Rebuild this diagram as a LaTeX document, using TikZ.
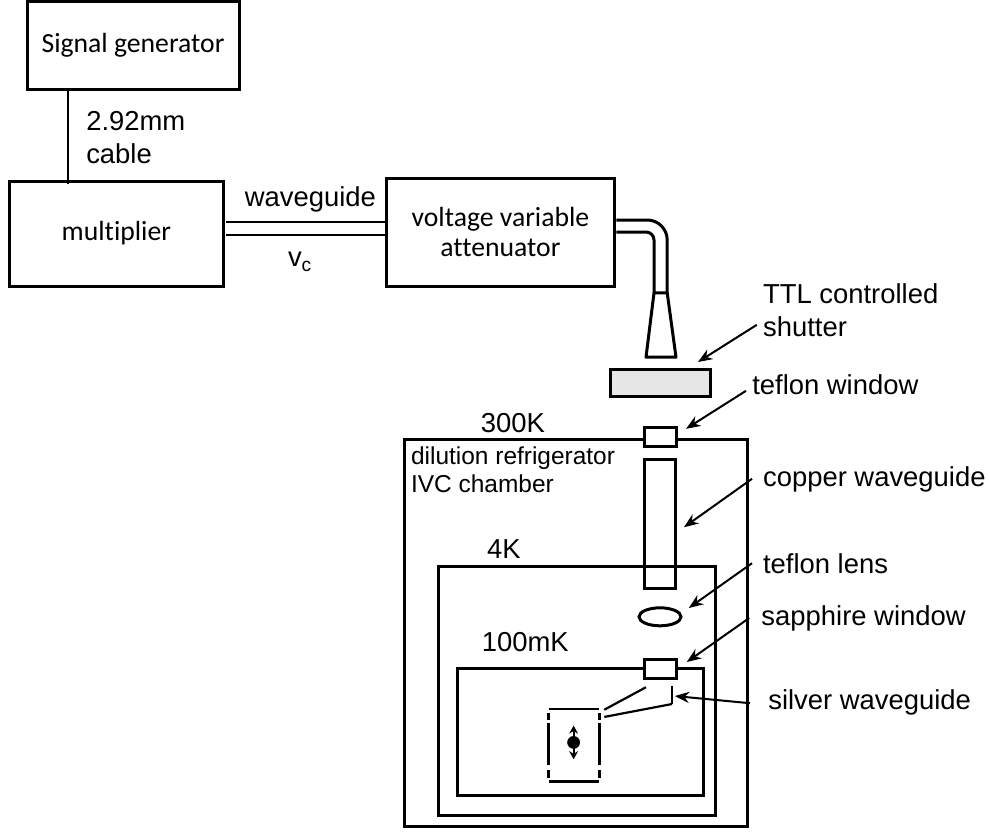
\documentclass[tikz,border=0pt]{standalone}
\usepackage{fontspec}
\setmainfont{Liberation Sans}
\newfontfamily\calibrifont[Ligatures=NoCommon]{Carlito}
\usetikzlibrary{positioning,arrows.meta,calc,shapes.geometric}
\definecolor{shutterfill}{RGB}{230,230,230}
\tikzset{
  box/.style={rectangle,draw=black,line width=0.075cm,align=center,inner sep=0pt,font=\calibrifont\fontsize{19.7}{22}\selectfont},
  partbox/.style={rectangle,draw=black,line width=0.075cm,inner sep=0pt,fill=white},
  chamber/.style={rectangle,draw=black,line width=0.075cm,inner sep=0pt},
  pipe/.style={draw=black,line width=0.075cm,line join=round},
  thinline/.style={draw=black,line width=0.045cm},
  lab/.style={inner sep=0pt,align=left,font=\fontsize{19.5}{23.5}\selectfont},
  smalllab/.style={inner sep=0pt,align=left,font=\fontsize{17.4}{20.5}\selectfont},
  pointer/.style={-{Stealth[length=3.6mm,width=2.8mm]},line width=0.05cm},
  sampleline/.style={draw=black,line width=0.055cm}
}
\begin{document}
\begin{tikzpicture}
  \useasboundingbox (0,0) rectangle (24.75,-20.8);

  % source chain
  \node[box,minimum width=5.3cm,minimum height=2.2cm] (siggen) at (3.325,-1.13) {Signal generator};
  \node[box,minimum width=5.33cm,minimum height=2.63cm] (mult) at (2.91,-5.84) {multiplier};
  \node[box,minimum width=5.72cm,minimum height=2.7cm] (atten) at (12.51,-5.8) {voltage variable\\attenuator};
  \coordinate (cabend) at (1.7,-4.6);
  \draw[thinline] (siggen.south -| cabend) -- (cabend);
  \node[lab,anchor=west] (cablelab) at (2.15,-3.45) {2.92mm\\cable};
  \coordinate (wgtop) at (5.65,-5.55);
  \coordinate (wgbot) at (5.65,-5.875);
  \draw[thinline] (wgtop) -- (wgtop -| atten.west);
  \draw[thinline] (wgbot) -- (wgbot -| atten.west);
  \node[lab] (wglab) at (7.76,-4.98) {waveguide};
  \node[lab] (vclab) at (7.5,-6.55) {v\textsubscript{c}};

  % bend and horn
  \coordinate (hornl) at (16.35,-7.32);
  \coordinate (hornr) at (16.68,-7.32);
  \draw[pipe,rounded corners=0.5cm] (atten.east |- 0,-5.5) -- (16.68,-5.5) -- (hornr);
  \draw[pipe,rounded corners=0.2cm] (atten.east |- 0,-5.8) -- (16.35,-5.8) -- (hornl);
  \draw[pipe] (hornl) -- (16.15,-8.93) -- (16.9,-8.93) -- (hornr) -- cycle;

  % chambers
  \node[chamber,minimum width=8.58cm,minimum height=9.68cm] (ivc) at (14.39,-15.83) {};
  \node[chamber,minimum width=6.92cm,minimum height=6.23cm] (fourk) at (14.43,-17.27) {};
  \node[chamber,minimum width=6.15cm,minimum height=3.17cm] (cold) at (14.52,-18.29) {};
  \node[lab] (lab300) at (12.82,-10.58) {300K};
  \node[lab] (lab4k) at (12.6,-13.73) {4K};
  \node[lab] (lab100) at (13.13,-16.05) {100mK};
  \node[smalllab,anchor=north west] (ivclab) at (10.27,-11.15) {dilution refrigerator\\IVC chamber};

  % optical path
  \node[partbox,fill=shutterfill,minimum width=2.5cm,minimum height=0.68cm] (shutter) at (16.5,-9.58) {};
  \node[partbox,minimum width=0.8cm,minimum height=0.47cm] (tefwin) at (16.5,-10.92) {};
  \node[partbox,fill=none,minimum width=0.78cm,minimum height=3.23cm] (copper) at (16.5,-13.09) {};
  \node[ellipse,draw=black,line width=0.075cm,minimum width=1.05cm,minimum height=0.45cm,inner sep=0pt] (lens) at (16.5,-15.42) {};
  \node[partbox,minimum width=0.8cm,minimum height=0.47cm] (sapwin) at (16.5,-16.72) {};

  % sample
  \node[minimum width=1.26cm,minimum height=1.8cm,inner sep=0pt] (sample) at (14.35,-18.63) {};
  \draw[sampleline] (sample.north west) -- (sample.north east);
  \draw[sampleline] (sample.south west) -- (sample.south east);
  \foreach \side in {west,east}{
    \draw[sampleline] ($(sample.north \side)+(0,-0.1)$) -- ++(0,-0.17);
    \draw[sampleline] ($(sample.north \side)+(0,-0.35)$) -- ++(0,-1.05);
    \draw[sampleline] ($(sample.south \side)+(0,0.28)$) -- ++(0,-0.18);
  }
  \coordinate (dot) at (14.34,-18.56);
  \fill[black] (dot) circle (0.16cm);
  \draw[{Stealth[length=2mm,width=2.2mm]}-{Stealth[length=2mm,width=2.2mm]},line width=0.05cm] ($(dot)+(0,0.42)$) -- ($(dot)+(0,-0.42)$);

  % silver waveguide
  \coordinate (sfork) at (16.8,-17.6);
  \draw[sampleline] ($(sample.north east)+(0.12,-0.02)$) -- (16.15,-17.18);
  \draw[sampleline] ($(sample.north east)+(0.12,-0.2)$) -- (sfork);
  \draw[sampleline] (sfork) -- ++(0,0.45);

  % labels on the right
  \node[lab,anchor=west] (shutterlab) at (19.07,-7.75) {TTL controlled\\shutter};
  \node[lab,anchor=west] (teflab) at (18.8,-9.62) {teflon window};
  \node[lab,anchor=west] (coplab) at (19.07,-11.98) {copper waveguide};
  \node[lab,anchor=west] (lenslab) at (19.07,-14.1) {teflon lens};
  \node[lab,anchor=west] (saplab) at (19.03,-15.47) {sapphire window};
  \node[lab,anchor=west] (silvlab) at (19.2,-17.55) {silver waveguide};

  \coordinate (shuttip) at (17.45,-9.05);
  \coordinate (teftip) at (17.15,-10.72);
  \coordinate (coptip) at (17.1,-13.18);
  \coordinate (lenstip) at (17.22,-15.2);
  \coordinate (saptip) at (17.17,-16.55);
  \coordinate (silvtip) at (16.87,-17.4);
  \draw[pointer] (18.92,-8.12) -- (shuttip);
  \draw[pointer] (18.65,-9.77) -- (teftip);
  \draw[pointer] (18.8,-11.97) -- (coptip);
  \draw[pointer] (18.8,-14.08) -- (lenstip);
  \draw[pointer] (18.73,-15.45) -- (saptip);
  \draw[pointer] (18.75,-17.58) -- (silvtip);
\end{tikzpicture}
\end{document}
